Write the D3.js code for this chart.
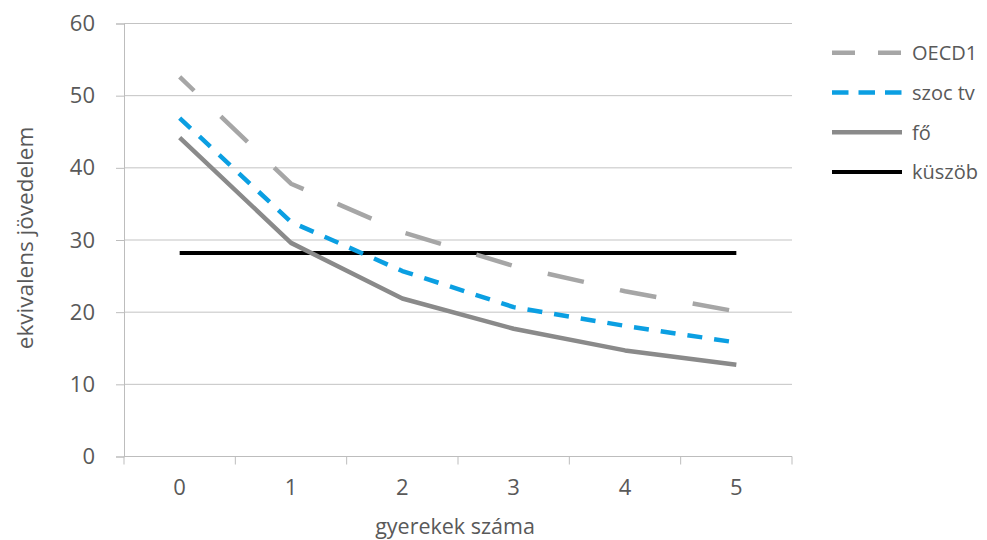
<!DOCTYPE html>
<html><head><meta charset="utf-8">
<script src="https://cdn.jsdelivr.net/npm/d3@7"></script>
<style>body{margin:0;background:#fff}svg{display:block}text{font-family:"Open Sans",sans-serif;fill:#595959}</style>
</head><body><svg id="c" width="987" height="540"></svg>
<script>
const categories = ["0","1","2","3","4","5"];
const oecd1 = [52.6, 37.8, 31.1, 26.4, 22.9, 20.1];
const szocTv = [46.9, 32.5, 25.7, 20.7, 18.1, 15.8];
const fo = [44.2, 29.6, 21.9, 17.7, 14.7, 12.7];
const kuszob = [28.2, 28.2, 28.2, 28.2, 28.2, 28.2];
const yTicks = [0, 10, 20, 30, 40, 50, 60];
const seriesNames = ["OECD1", "szoc tv", "fő", "küszöb"];

const svg = d3.select("#c");
const L = 124, R = 792, T = 23.5, B = 456.5;
const x = d3.scaleBand().domain(categories).range([L, R]).padding(0);
const y = d3.scaleLinear().domain([0, 60]).range([B, T]);
const cx = c => x(c) + x.bandwidth() / 2;
const FONT = '"Open Sans",sans-serif';

// gridlines
svg.append("g").selectAll("line").data(yTicks.filter(v => v > 0)).join("line")
  .attr("x1", L).attr("x2", R).attr("y1", d => y(d)).attr("y2", d => y(d))
  .attr("stroke", "#c3c3c3").attr("stroke-width", 1);

// y axis
const ya = svg.append("g").attr("transform", `translate(${L},0)`)
  .call(d3.axisLeft(y).tickValues(yTicks).tickSize(8).tickPadding(21));
ya.select(".domain").attr("stroke", "#bdbdbd");
ya.selectAll(".tick line").attr("stroke", "#bdbdbd");
ya.selectAll("text").style("font-size", "22px").style("font-family", FONT).attr("fill", "#595959");

// x axis
const xa = svg.append("g").attr("transform", `translate(0,${B})`)
  .call(d3.axisBottom(x).tickSize(0).tickPadding(23));
xa.select(".domain").attr("stroke", "#bdbdbd").attr("d", `M${L},0H${R}`);
xa.selectAll("text").style("font-size", "22px").style("font-family", FONT).attr("fill", "#595959");
const bounds = categories.map(c => x(c)).concat([R]);
xa.selectAll(".bt").data(bounds).join("line").attr("class", "bt")
  .attr("x1", d => d).attr("x2", d => d).attr("y1", 0).attr("y2", 8).attr("stroke", "#bdbdbd");

// axis titles
svg.append("text").attr("x", 455).attr("y", 534).attr("text-anchor", "middle")
  .style("font-size", "21.5px").text("gyerekek száma");
svg.append("text").attr("transform", "translate(33,238) rotate(-90)").attr("text-anchor", "middle")
  .style("font-size", "22.5px").text("ekvivalens jövedelem");

const styles = [
  {data: oecd1, color: "#a6a6a6", dash: "37,37", off: 17, w: 4.5},
  {data: szocTv, color: "#0b9fe2", dash: "15,12", off: 0, w: 4.5},
  {data: fo, color: "#8a8a8a", dash: null, off: 0, w: 4.5},
  {data: kuszob, color: "#000000", dash: null, off: 0, w: 4}
];
const line = d3.line().x((d, i) => cx(categories[i])).y(d => y(d));
[3, 2, 0, 1].forEach(k => {
  const s = styles[k];
  svg.append("path").datum(s.data).attr("d", line).attr("fill", "none")
    .attr("stroke", s.color).attr("stroke-width", s.w)
    .attr("stroke-dasharray", s.dash).attr("stroke-dashoffset", s.off)
    .attr("stroke-linejoin", "round");
});

// legend
const legDash = ["23,23", "16.5,10", null, null];
const lg = svg.append("g");
seriesNames.forEach((n, i) => {
  const yy = 52.7 + i * 39.8;
  lg.append("line").attr("x1", 832).attr("x2", 902).attr("y1", yy).attr("y2", yy)
    .attr("stroke", styles[i].color).attr("stroke-width", styles[i].w)
    .attr("stroke-dasharray", legDash[i]);
  lg.append("text").attr("x", 912).attr("y", yy).attr("dy", "0.36em")
    .style("font-size", "20px").text(n);
});
</script></body></html>
